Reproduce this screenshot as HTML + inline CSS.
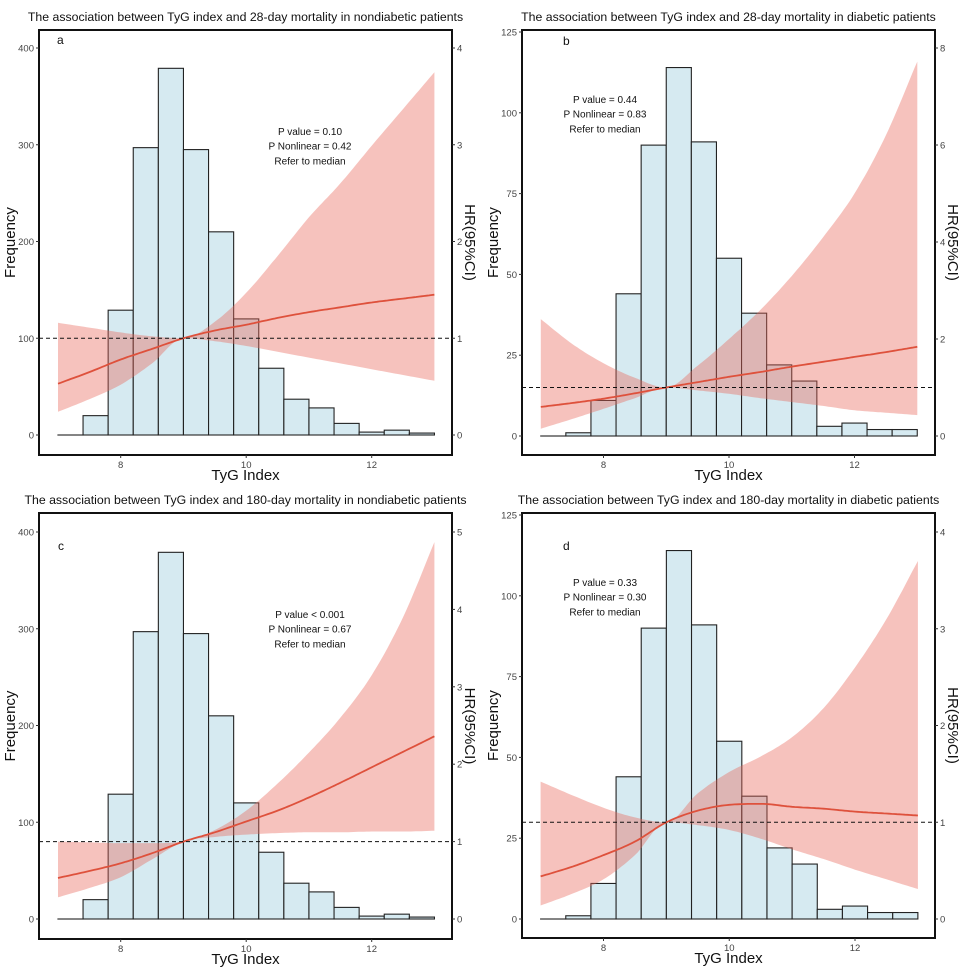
<!DOCTYPE html>
<html><head><meta charset="utf-8"><style>
body{margin:0;background:#fff;width:967px;height:968px;overflow:hidden}
svg{display:block}
text{font-family:"Liberation Sans",Arial,sans-serif}
</style></head><body>
<svg id="fig" width="967" height="968"></svg>
<script>
const xKnots = [7,7.5,8,8.5,9,9.5,10,10.5,11,11.5,12,12.5,13];
const binStarts = [7.0,7.4,7.8,8.2,8.6,9.0,9.4,9.8,10.2,10.6,11.0,11.4,11.8,12.2,12.6];
const countsNonDiab = [0,20,129,297,379,295,210,120,69,37,28,12,3,5,2];
const countsDiab = [0,1,11,44,90,114,91,55,38,22,17,3,4,2,2];
const hrA = [0.53,0.65,0.78,0.89,1,1.08,1.14,1.21,1.27,1.32,1.37,1.41,1.45];
const loA = [0.24,0.37,0.52,0.74,1,0.97,0.92,0.86,0.8,0.74,0.68,0.62,0.56];
const hiA = [1.16,1.11,1.06,1.02,1,1.17,1.47,1.85,2.25,2.6,2.99,3.37,3.75];
const hrB = [0.6,0.68,0.77,0.88,1,1.11,1.22,1.32,1.43,1.53,1.63,1.73,1.84];
const loB = [0.15,0.35,0.56,0.78,1,0.94,0.87,0.78,0.7,0.62,0.53,0.48,0.43];
const hiB = [2.41,1.9,1.5,1.2,1,1.45,2.0,2.6,3.3,4.1,5.0,6.2,7.72];
const hrC = [0.53,0.62,0.72,0.85,1,1.12,1.26,1.4,1.57,1.76,1.96,2.16,2.36];
const loC = [0.28,0.4,0.54,0.77,1,1.06,1.09,1.11,1.12,1.12,1.13,1.13,1.14];
const hiC = [1.0,0.99,0.98,0.98,1,1.15,1.4,1.75,2.15,2.6,3.15,3.9,4.87];
const hrD = [0.44,0.54,0.66,0.8,1,1.12,1.18,1.19,1.16,1.14,1.11,1.09,1.07];
const loD = [0.14,0.26,0.41,0.66,1,0.97,0.92,0.83,0.72,0.62,0.51,0.41,0.31];
const hiD = [1.42,1.28,1.15,1.05,1,1.3,1.52,1.68,1.88,2.18,2.6,3.1,3.7];
const xTicks = [8,10,12];

const NS="http://www.w3.org/2000/svg";
const svg=document.getElementById('fig');
function mk(tag,attrs,parent){const e=document.createElementNS(NS,tag);for(const k in attrs)e.setAttribute(k,attrs[k]);(parent||svg).appendChild(e);return e;}
function txt(s,attrs,parent){const e=mk('text',attrs,parent);e.textContent=s;return e;}
function smooth(xs,ys){
  const n=xs.length,h=[],dl=[],m=new Array(n);
  for(let i=0;i<n-1;i++){h.push(xs[i+1]-xs[i]);dl.push((ys[i+1]-ys[i])/h[i]);}
  m[0]=dl[0];m[n-1]=dl[n-2];
  for(let i=1;i<n-1;i++){m[i]=(dl[i-1]*dl[i]<=0)?0:(dl[i-1]+dl[i])/2;}
  for(let i=0;i<n-1;i++){if(dl[i]===0){m[i]=0;m[i+1]=0;continue;}const a=m[i]/dl[i],b=m[i+1]/dl[i],s=a*a+b*b;if(s>9){const t=3/Math.sqrt(s);m[i]=t*a*dl[i];m[i+1]=t*b*dl[i];}}
  const pts=[];
  for(let i=0;i<n-1;i++){for(let k=0;k<12;k++){const t=k/12,t2=t*t,t3=t2*t;
    const y=(2*t3-3*t2+1)*ys[i]+(t3-2*t2+t)*h[i]*m[i]+(-2*t3+3*t2)*ys[i+1]+(t3-t2)*h[i]*m[i+1];
    pts.push([xs[i]+h[i]*t,y]);}}
  pts.push([xs[n-1],ys[n-1]]);return pts;}

function panel(p){
  const g=mk('g',{});
  
  
  const X=v=>p.x8+(v-8)*(p.x12-p.x8)/4;
  const YF=v=>p.y0-v*(p.y0-p.yFmax)/p.fmax;
  const YH=v=>p.y0-v*(p.y0-p.yHmax)/p.hmax;
  const t=txt(p.title,{x:(p.L+p.R)/2,y:p.T-9,'text-anchor':'middle','font-size':'12.3',fill:'#111'},g);
  
  const bw=0.4;
  p.counts.forEach((c,i)=>{const b=mk('rect',{x:X(binStarts[i]),y:YF(c),width:X(binStarts[i]+bw)-X(binStarts[i]),height:Math.max(0.01,YF(0)-YF(c)),fill:'#d6eaf1',stroke:'#222','stroke-width':'1.1'},g);
    });
  const up=smooth(xKnots,p.hi),lo=smooth(xKnots,p.lo);
  let d='M'+up.map(q=>X(q[0]).toFixed(1)+','+YH(q[1]).toFixed(1)).join('L')+'L'+lo.reverse().map(q=>X(q[0]).toFixed(1)+','+YH(q[1]).toFixed(1)).join('L')+'Z';
  const band=mk('path',{d:d,fill:'#e8675a','fill-opacity':'0.4'},g);
  
  const ln=smooth(xKnots,p.hr);
  const line=mk('path',{d:'M'+ln.map(q=>X(q[0]).toFixed(1)+','+YH(q[1]).toFixed(1)).join('L'),fill:'none',stroke:'#de513c','stroke-width':'1.8'},g);
  
  const dash=mk('line',{x1:p.L,x2:p.R,y1:YH(1),y2:YH(1),stroke:'#111','stroke-width':'1','stroke-dasharray':'4,3'},g);
  
  const box=mk('rect',{x:p.L,y:p.T,width:p.R-p.L,height:p.B-p.T,fill:'none',stroke:'#111','stroke-width':'2'},g);
  
  p.fticks.forEach(v=>{mk('line',{x1:p.L-3,x2:p.L,y1:YF(v),y2:YF(v),stroke:'#333'},g);
    const l=txt(String(v),{x:p.L-5,y:YF(v)+3.5,'text-anchor':'end','font-size':'9.5',fill:'#444'},g);
    });
  p.hticks.forEach(v=>{mk('line',{x1:p.R,x2:p.R+3,y1:YH(v),y2:YH(v),stroke:'#333'},g);
    const l=txt(String(v),{x:p.R+5,y:YH(v)+3.5,'font-size':'9.5',fill:'#444'},g);
    });
  xTicks.forEach(v=>{mk('line',{x1:X(v),x2:X(v),y1:p.B,y2:p.B+3,stroke:'#333'},g);
    const l=txt(String(v),{x:X(v),y:p.B+13,'text-anchor':'middle','font-size':'9.5',fill:'#444'},g);
    });
  const xt=txt('TyG Index',{x:(p.L+p.R)/2,y:p.B+25,'text-anchor':'middle','font-size':'15',fill:'#111'},g);
  
  const cy=(p.T+p.B)/2;
  const yt=txt('Frequency',{x:0,y:0,'text-anchor':'middle','font-size':'15',fill:'#111',transform:`translate(${p.L-24},${cy}) rotate(-90)`},g);
  
  const ht=txt('HR(95%CI)',{x:0,y:0,'text-anchor':'middle','font-size':'15',fill:'#111',transform:`translate(${p.R+13},${cy}) rotate(90)`},g);
  
  const lt=txt(p.letter,{x:p.lx,y:p.ly,'font-size':'12',fill:'#111'},g);
  
  p.notes.forEach((s,i)=>{const n=txt(s,{x:p.nx,y:p.ny+i*14.7,'text-anchor':'middle','font-size':'10',fill:'#111'},g);
    });
}
panel({letter:'a',title:'The association between TyG index and 28-day mortality in nondiabetic patients',L:39,R:452,T:30,B:455,x8:120.7,x12:371.7,y0:435,yFmax:48,fmax:400,yHmax:48,hmax:4,counts:countsNonDiab,hr:hrA,lo:loA,hi:hiA,fticks:[0,100,200,300,400],hticks:[0,1,2,3,4],lx:57,ly:44,nx:310,ny:135,notes:['P value = 0.10','P Nonlinear = 0.42','Refer to median']});
panel({letter:'b',title:'The association between TyG index and 28-day mortality in diabetic patients',L:522,R:935,T:30,B:455,x8:603.5,x12:854.5,y0:436,yFmax:32,fmax:125,yHmax:48,hmax:8,counts:countsDiab,hr:hrB,lo:loB,hi:hiB,fticks:[0,25,50,75,100,125],hticks:[0,2,4,6,8],lx:563,ly:45,nx:605,ny:103,notes:['P value = 0.44','P Nonlinear = 0.83','Refer to median']});
panel({letter:'c',title:'The association between TyG index and 180-day mortality in nondiabetic patients',L:39,R:452,T:513,B:939,x8:120.7,x12:371.7,y0:919,yFmax:532,fmax:400,yHmax:532,hmax:5,counts:countsNonDiab,hr:hrC,lo:loC,hi:hiC,fticks:[0,100,200,300,400],hticks:[0,1,2,3,4,5],lx:58,ly:550,nx:310,ny:618,notes:['P value < 0.001','P Nonlinear = 0.67','Refer to median']});
panel({letter:'d',title:'The association between TyG index and 180-day mortality in diabetic patients',L:522,R:935,T:513,B:938,x8:603.5,x12:855,y0:919,yFmax:515,fmax:125,yHmax:532,hmax:4,counts:countsDiab,hr:hrD,lo:loD,hi:hiD,fticks:[0,25,50,75,100,125],hticks:[0,1,2,3,4],lx:563,ly:550,nx:605,ny:586,notes:['P value = 0.33','P Nonlinear = 0.30','Refer to median']});
</script>
</body></html>
